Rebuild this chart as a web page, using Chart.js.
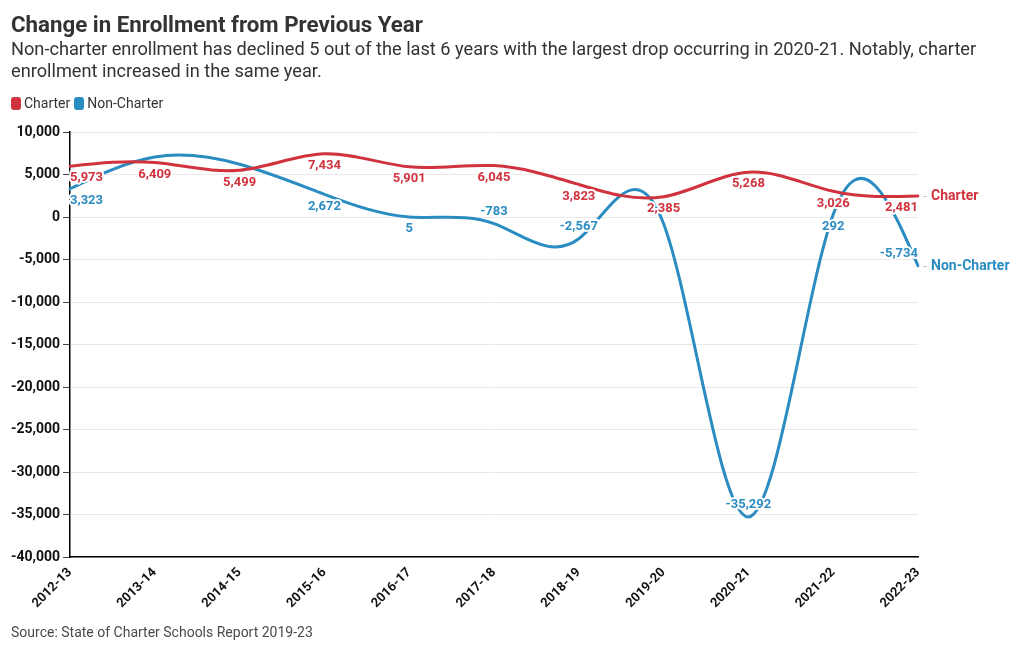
<!DOCTYPE html>
<html>
<head>
<meta charset="utf-8">
<script src="https://cdn.jsdelivr.net/npm/chart.js@4/dist/chart.umd.min.js"></script>
<style>
  html, body { margin: 0; padding: 0; background: #fff; }
  body { width: 1020px; height: 650px; position: relative; overflow: hidden; font-family: Roboto, sans-serif; }
  #chart { position: absolute; left: 0; top: 0; }
  .txt { position: absolute; white-space: nowrap; }
  #title { left: 11px; top: 11px; font-size: 22.3px; font-weight: bold; line-height: 26px; color: #333; }
  #subtitle { left: 11px; top: 38px; font-size: 18.2px; line-height: 22px; color: #333; }
  #legend { left: 11px; top: 94px; font-size: 14px; line-height: 18px; color: #333; display: flex; align-items: center; }
  .sw { display: inline-block; width: 10px; height: 13px; border-radius: 3px; margin-right: 3px; }
  .item { display: flex; align-items: center; margin-right: 4px; }
  #source { left: 11px; top: 624px; font-size: 14px; line-height: 16px; color: #4a4a4a; }
</style>
</head>
<body>
<canvas id="chart" width="1020" height="650"></canvas>
<div id="title" class="txt">Change in Enrollment from Previous Year</div>
<div id="subtitle" class="txt">Non-charter enrollment has declined 5 out of the last 6 years with the largest drop occurring in 2020-21. Notably, charter<br>enrollment increased in the same year.</div>
<div id="legend" class="txt"></div>
<div id="source" class="txt">Source: State of Charter Schools Report 2019-23</div>
<script>
const categories = ['2012-13', '2013-14', '2014-15', '2015-16', '2016-17', '2017-18', '2018-19', '2019-20', '2020-21', '2021-22', '2022-23'];
const charterValues = [5973, 6409, 5499, 7434, 5901, 6045, 3823, 2385, 5268, 3026, 2481];
const nonCharterValues = [3323, 7066, 6210, 2672, 5, -783, -2567, -800, -35292, 292, -5734];
const seriesNames = ['Charter', 'Non-Charter'];
const seriesColors = ['#d0323e', '#2b8cc2'];
const yMin = -40000;
const yMax = 10000;
const yStep = 5000;

// legend (HTML)
const legendEl = document.getElementById('legend');
seriesNames.forEach((name, i) => {
  const it = document.createElement('span');
  it.className = 'item';
  const sw = document.createElement('span');
  sw.className = 'sw';
  sw.style.background = seriesColors[i];
  it.appendChild(sw);
  it.appendChild(document.createTextNode(name));
  legendEl.appendChild(it);
});

// Natural cubic spline control points (curve type used by the reference)
function applyNaturalSpline(points) {
  const n = points.length;
  if (n < 3) return;
  const h = (points[n - 1].x - points[0].x) / (n - 1);
  const y = points.map(p => p.y);
  const M = new Array(n).fill(0);
  const m = n - 2;
  const cp = new Array(m), dp = new Array(m);
  for (let k = 0; k < m; k++) {
    const i = k + 1;
    const r = 6 * (y[i + 1] - 2 * y[i] + y[i - 1]) / (h * h);
    if (k === 0) { cp[k] = 1 / 4; dp[k] = r / 4; }
    else { const den = 4 - cp[k - 1]; cp[k] = 1 / den; dp[k] = (r - dp[k - 1]) / den; }
  }
  for (let k = m - 1; k >= 0; k--) {
    M[k + 1] = dp[k] - (k < m - 1 ? cp[k] * M[k + 2] : 0);
  }
  const d = new Array(n);
  for (let i = 0; i < n - 1; i++) d[i] = (y[i + 1] - y[i]) / h - h * (2 * M[i] + M[i + 1]) / 6;
  d[n - 1] = (y[n - 1] - y[n - 2]) / h + h * (M[n - 2] + 2 * M[n - 1]) / 6;
  points.forEach((p, i) => {
    p.cp1x = p.x - h / 3; p.cp1y = p.y - (h / 3) * d[i];
    p.cp2x = p.x + h / 3; p.cp2y = p.y + (h / 3) * d[i];
  });
}

const splinePlugin = {
  id: 'naturalSpline',
  beforeDatasetDraw(chart, args) {
    const meta = args.meta;
    const line = meta.dataset;
    if (!line) return;
    applyNaturalSpline(meta.data);
    line._pointsUpdated = true;
    line._path = undefined;
  }
};

const labelPlugin = {
  id: 'valueLabels',
  afterDatasetsDraw(chart) {
    const ctx = chart.ctx;
    const area = chart.chartArea;
    const boxes = [];
    ctx.save();
    ctx.font = 'bold 13px Roboto';
    ctx.textBaseline = 'middle';
    ctx.lineJoin = 'round';
    chart.data.datasets.forEach((ds, di) => {
      const meta = chart.getDatasetMeta(di);
      const n = meta.data.length;
      meta.data.forEach((pt, i) => {
        const v = ds.data[i];
        const text = v.toLocaleString('en-US');
        const w = ctx.measureText(text).width;
        const hh = 12;
        let align = 'center';
        if (i === 0) align = 'left';
        else if (i === n - 1) align = 'right';
        const x = pt.x;
        const y = pt.y + (v >= 0 ? 12 : -12);
        const left = align === 'left' ? x : (align === 'right' ? x - w : x - w / 2);
        const box = { l: left - 1, r: left + w + 1, t: y - hh / 2, b: y + hh / 2 };
        const hit = boxes.some(b => !(box.r < b.l || box.l > b.r || box.b < b.t || box.t > b.b));
        if (hit) return;
        boxes.push(box);
        ctx.textAlign = align;
        ctx.lineWidth = 4;
        ctx.strokeStyle = '#fff';
        ctx.strokeText(text, x, y);
        ctx.fillStyle = ds.borderColor;
        ctx.fillText(text, x, y);
      });
      // end-of-line series label
      const last = meta.data[n - 1];
      ctx.strokeStyle = '#c8c8c8';
      ctx.lineWidth = 1;
      ctx.beginPath();
      ctx.moveTo(area.right + 5, Math.round(last.y) + 0.5);
      ctx.lineTo(area.right + 9, Math.round(last.y) + 0.5);
      ctx.stroke();
      ctx.font = 'bold 14px Roboto';
      ctx.textAlign = 'left';
      ctx.fillStyle = ds.borderColor;
      ctx.fillText(ds.label, area.right + 13, last.y + 1);
      ctx.font = 'bold 13px Roboto';
    });
    ctx.restore();
  }
};

new Chart(document.getElementById('chart'), {
  type: 'line',
  data: {
    labels: categories,
    datasets: [
      { label: seriesNames[0], data: charterValues, borderColor: seriesColors[0], backgroundColor: seriesColors[0] },
      { label: seriesNames[1], data: nonCharterValues, borderColor: seriesColors[1], backgroundColor: seriesColors[1] }
    ]
  },
  options: {
    responsive: false,
    animation: false,
    devicePixelRatio: 1,
    layout: { padding: { top: 132, right: 102, bottom: 33, left: 0 } },
    elements: {
      point: { radius: 0, hoverRadius: 0 },
      line: { tension: 0.4, borderWidth: 3, borderCapStyle: 'round', borderJoinStyle: 'round' }
    },
    plugins: {
      legend: { display: false },
      title: { display: false },
      tooltip: { enabled: false }
    },
    scales: {
      x: {
        type: 'category',
        offset: false,
        grid: { display: false, drawTicks: false },
        border: { display: true, color: '#000', width: 1.5 },
        ticks: {
          autoSkip: false,
          minRotation: 45,
          maxRotation: 45,
          padding: 8,
          color: '#111',
          font: { family: 'Roboto', size: 13, weight: 'bold' }
        },
        afterFit(scale) { scale.height = 60; scale.paddingLeft = 0; scale.paddingRight = 0; }
      },
      y: {
        min: yMin,
        max: yMax,
        ticks: {
          stepSize: yStep,
          padding: 3,
          color: '#111',
          font: { family: 'Roboto', size: 14, weight: 'bold' },
          callback: v => v.toLocaleString('en-US')
        },
        grid: { color: '#e9e9e9', tickColor: '#444', tickLength: 7, lineWidth: 1 },
        border: { display: true, color: '#000', width: 1.5 },
        afterFit(scale) { scale.width = 70; }
      }
    }
  },
  plugins: [splinePlugin, labelPlugin]
});
</script>
</body>
</html>
